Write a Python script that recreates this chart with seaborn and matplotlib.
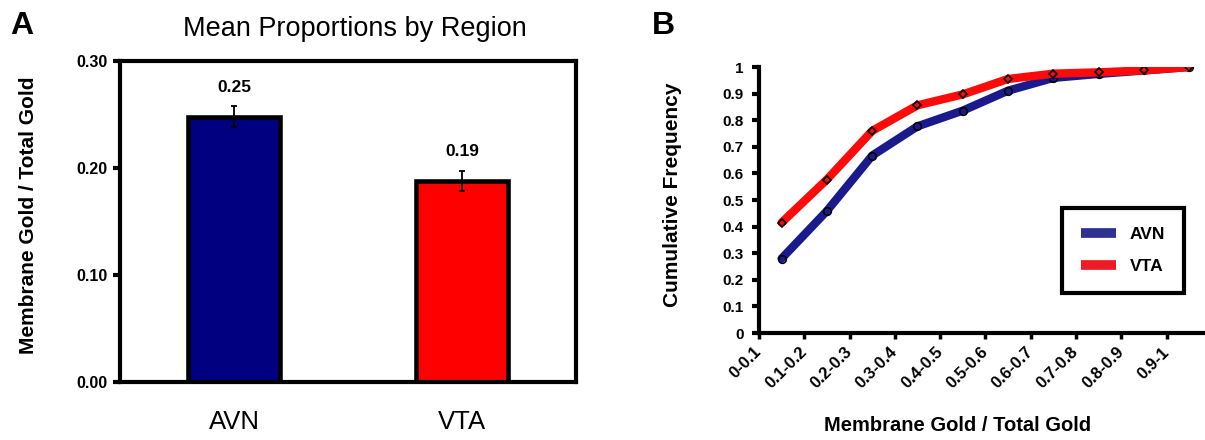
import numpy as np
import pandas as pd
import matplotlib
matplotlib.use("Agg")
import matplotlib.pyplot as plt
from matplotlib.lines import Line2D
import seaborn as sns

# Panel A data
regions = ["AVN", "VTA"]
mean_prop = [0.248, 0.188]
sem_prop = [0.0095, 0.0095]
bar_colors = ["#000080", "#FF0000"]

# Panel B data
bins = ["0-0.1", "0.1-0.2", "0.2-0.3", "0.3-0.4", "0.4-0.5",
        "0.5-0.6", "0.6-0.7", "0.7-0.8", "0.8-0.9", "0.9-1"]
avn_cum = [0.28, 0.459, 0.667, 0.777, 0.836, 0.911, 0.959, 0.974, 0.987, 1.0]
vta_cum = [0.415, 0.577, 0.760, 0.856, 0.897, 0.955, 0.975, 0.980, 0.987, 1.0]

sns.set_style("white")
plt.rcParams["font.family"] = ["Liberation Sans", "DejaVu Sans"]
for k in ["text.color", "axes.labelcolor", "xtick.color", "ytick.color"]:
    plt.rcParams[k] = "black"

fig = plt.figure(figsize=(12.05, 4.4), dpi=100)

# ---- Panel A: bar chart
axA = fig.add_axes([120 / 1205, 1 - 382 / 440, 456 / 1205, 321 / 440])
dfA = pd.DataFrame({"region": regions, "value": mean_prop})
sns.barplot(data=dfA, x="region", y="value", hue="region", palette=bar_colors,
            saturation=1, width=0.4, edgecolor="black", linewidth=3.3,
            legend=False, ax=axA)
axA.errorbar(range(len(regions)), mean_prop, yerr=sem_prop, fmt="none",
             ecolor="black", elinewidth=1.3, capsize=2.2, capthick=1.3)
for i, v in enumerate(mean_prop):
    axA.text(i, v + 0.027, f"{v:.2f}", ha="center", va="center",
             fontsize=12.5, fontweight="bold")
axA.set_ylim(0, 0.30)
axA.set_xlim(-0.5, 1.5)
axA.set_yticks([0, 0.1, 0.2, 0.3])
axA.set_yticklabels(["0.00", "0.10", "0.20", "0.30"], fontsize=11.5, fontweight="bold")
axA.tick_params(axis="y", direction="out", length=5, width=3, left=True, pad=4)
axA.tick_params(axis="x", length=0, pad=20, labelsize=18.5)
axA.set_xlabel("")
axA.set_ylabel("Membrane Gold / Total Gold", fontsize=15, fontweight="bold")
axA.yaxis.set_label_coords(-0.18, 0.52)
for s in axA.spines.values():
    s.set_visible(True)
    s.set_linewidth(3)
    s.set_color("black")
fig.text(355 / 1205, 1 - 29 / 440, "Mean Proportions by Region",
         ha="center", va="center", fontsize=19.5)
fig.text(10 / 1205, 1 - 26 / 440, "A", ha="left", va="center",
         fontsize=23, fontweight="bold")

# ---- Panel B: cumulative frequency
axB = fig.add_axes([759 / 1205, 1 - 333 / 440, 446 / 1205, 266 / 440])
xpos = np.arange(len(bins)) + 0.5
sns.lineplot(x=xpos, y=avn_cum, color="#1a1a8c", lw=6, marker="o", ms=5.5,
             mfc="none", mec="black", mew=1.2, sort=False, ax=axB)
sns.lineplot(x=xpos, y=vta_cum, color="#FF0A0A", lw=6, marker="D", ms=4,
             mfc="none", mec="black", mew=1.2, sort=False, ax=axB)
axB.set_xlim(0, 9.85)
axB.set_ylim(0, 1.0)
axB.set_yticks(np.round(np.arange(0, 1.01, 0.1), 1))
axB.set_yticklabels(["0", "0.1", "0.2", "0.3", "0.4", "0.5", "0.6", "0.7",
                     "0.8", "0.9", "1"], fontsize=11, fontweight="bold")
axB.set_xticks(np.arange(len(bins)))
axB.set_xticklabels(bins, fontsize=12, fontweight="bold", rotation=45,
                    ha="right", va="center", rotation_mode="anchor")
axB.tick_params(axis="y", direction="out", length=5, width=3, left=True, pad=6)
axB.tick_params(axis="x", direction="out", length=4, width=2.5, bottom=True, pad=8)
for name in ["top", "right"]:
    axB.spines[name].set_visible(False)
for name in ["left", "bottom"]:
    axB.spines[name].set_linewidth(3)
    axB.spines[name].set_color("black")
fig.text(958 / 1205, 1 - 425 / 440, "Membrane Gold / Total Gold",
         ha="center", va="center", fontsize=14.5, fontweight="bold")
axB.set_ylabel("Cumulative Frequency", fontsize=15, fontweight="bold")
axB.yaxis.set_label_coords(-0.172, 0.52)
fig.text(652 / 1205, 1 - 26 / 440, "B", ha="left", va="center",
         fontsize=23, fontweight="bold")

handles = [Line2D([0], [0], color="#2E3192", lw=7, solid_capstyle="butt"),
           Line2D([0], [0], color="#ED1C24", lw=7, solid_capstyle="butt")]
leg = axB.legend(handles, regions, loc="upper left",
                 bbox_to_anchor=(1062 / 1205, 1 - 208 / 440),
                 bbox_transform=fig.transFigure, borderaxespad=0,
                 frameon=True, fancybox=False, edgecolor="black", framealpha=1,
                 borderpad=1.1, handlelength=2.0, handletextpad=0.8,
                 labelspacing=0.95, prop={"size": 12.5, "weight": "bold"})
leg.get_frame().set_linewidth(3)

fig.savefig("out.png", dpi=100)
